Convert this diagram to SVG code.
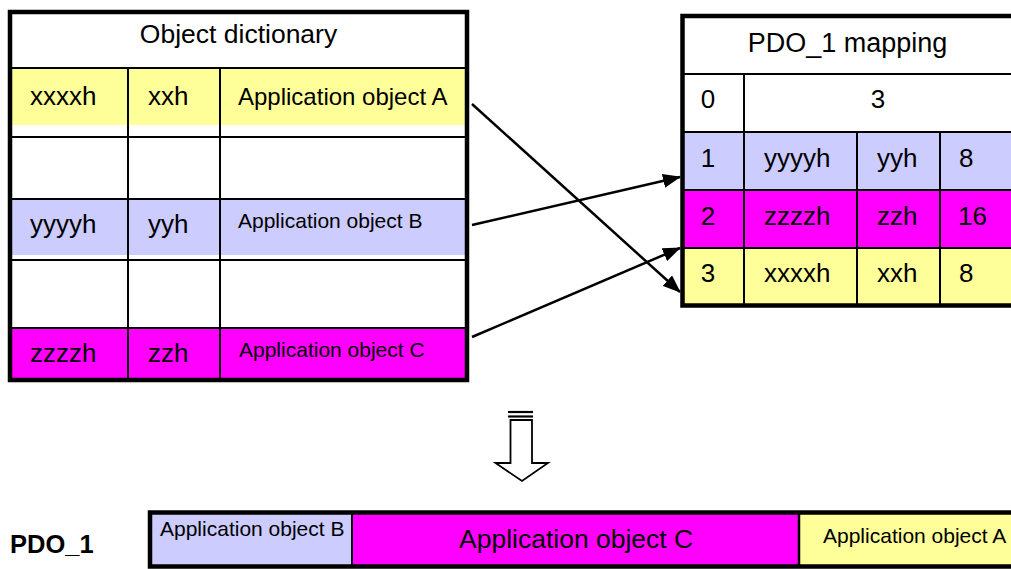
<svg xmlns="http://www.w3.org/2000/svg" width="1011" height="569" viewBox="0 0 1011 569">
<style>
text{font-family:"Liberation Sans",Arial,sans-serif;fill:#000}
.t{font-size:26px}
.s{font-size:21px}
.h{font-size:26.5px}
.c{text-anchor:middle}
.ln{stroke:#000;stroke-width:2;fill:none}
.ob{stroke:#000;stroke-width:4.5;fill:none}
.y{fill:#FFFF99}
.b{fill:#CCCCFF}
.m{fill:#FF00FF}
.con{stroke:#000;stroke-width:2.5;fill:none;marker-end:url(#ah)}
</style>
<defs>
<marker id="ah" markerWidth="18" markerHeight="14" refX="17" refY="7" orient="auto" markerUnits="userSpaceOnUse">
<path d="M0,0 L18,7 L0,14 Z" fill="#000"/>
</marker>
</defs>
<rect width="1011" height="569" fill="#fff"/>

<g id="object-dictionary">
<rect x="10" y="68" width="457" height="57" class="y"/>
<rect x="10" y="199" width="457" height="56" class="b"/>
<rect x="10" y="328" width="457" height="52" class="m"/>
<line x1="10" y1="68" x2="467" y2="68" class="ln"/>
<line x1="10" y1="137" x2="467" y2="137" class="ln"/>
<line x1="10" y1="199" x2="467" y2="199" class="ln"/>
<line x1="10" y1="260" x2="467" y2="260" class="ln"/>
<line x1="10" y1="328" x2="467" y2="328" class="ln"/>
<line x1="128" y1="68" x2="128" y2="380" class="ln"/>
<line x1="220" y1="68" x2="220" y2="380" class="ln"/>
<rect x="10" y="12" width="457" height="368" class="ob"/>
<text x="238.5" y="43" class="h c">Object dictionary</text>
<text x="30" y="105" class="t">xxxxh</text>
<text x="148" y="105" class="t">xxh</text>
<text x="238" y="105" class="s" style="font-size:24px">Application object A</text>
<text x="30" y="233" class="t">yyyyh</text>
<text x="148" y="233" class="t">yyh</text>
<text x="238" y="228" class="s">Application object B</text>
<text x="30" y="362" class="t">zzzzh</text>
<text x="148" y="362" class="t">zzh</text>
<text x="239" y="357" class="s">Application object C</text>
</g>

<g id="pdo1-mapping">
<rect x="682" y="132" width="340" height="58" class="b"/>
<rect x="682" y="190" width="340" height="58" class="m"/>
<rect x="682" y="248" width="340" height="57" class="y"/>
<line x1="682" y1="74" x2="1011" y2="74" class="ln"/>
<line x1="682" y1="132" x2="1011" y2="132" class="ln"/>
<line x1="682" y1="190" x2="1011" y2="190" class="ln"/>
<line x1="682" y1="248" x2="1011" y2="248" class="ln"/>
<line x1="744" y1="74" x2="744" y2="305" class="ln"/>
<line x1="857" y1="132" x2="857" y2="305" class="ln"/>
<line x1="940" y1="132" x2="940" y2="305" class="ln"/>
<rect x="682.5" y="16" width="340" height="289.5" class="ob"/>
<text x="847.5" y="52" class="c" style="font-size:27px">PDO_1 mapping</text>
<text x="708" y="108" class="t c">0</text>
<text x="878" y="108" class="t c">3</text>
<text x="708" y="167" class="t c">1</text>
<text x="764" y="167" class="t">yyyyh</text>
<text x="877" y="167" class="t">yyh</text>
<text x="959" y="167" class="t">8</text>
<text x="708" y="225" class="t c">2</text>
<text x="764" y="225" class="t">zzzzh</text>
<text x="877" y="225" class="t">zzh</text>
<text x="958" y="225" class="t">16</text>
<text x="708" y="282" class="t c">3</text>
<text x="764" y="282" class="t">xxxxh</text>
<text x="877" y="282" class="t">xxh</text>
<text x="959" y="282" class="t">8</text>
</g>

<g id="connectors">
<line x1="472" y1="104" x2="680" y2="292" class="con"/>
<line x1="472" y1="225" x2="680" y2="177" class="con"/>
<line x1="472" y1="337" x2="680" y2="248" class="con"/>
</g>

<g id="down-arrow">
<line x1="508" y1="412" x2="533" y2="412" stroke="#000" stroke-width="2.2"/>
<line x1="508" y1="416.5" x2="533" y2="416.5" stroke="#000" stroke-width="2.2"/>
<polygon points="510.5,420 532,420 532,463 548,463 522,481 495.5,463 510.5,463" fill="#fff" stroke="#000" stroke-width="1.8"/>
</g>

<g id="pdo1-frame">
<rect x="150" y="512.5" width="202" height="54" class="b"/>
<rect x="352" y="512.5" width="447" height="54" class="m"/>
<rect x="799" y="512.5" width="220" height="54" class="y"/>
<line x1="352" y1="512" x2="352" y2="567" stroke="#000" stroke-width="2"/>
<line x1="799" y1="512" x2="799" y2="567" stroke="#000" stroke-width="2.5"/>
<rect x="150" y="512.5" width="870" height="54" class="ob"/>
<text x="10" y="553" style="font-size:25.5px;font-weight:bold">PDO_1</text>
<text x="160" y="536" class="s">Application object B</text>
<text x="459" y="548" class="h">Application object C</text>
<text x="823" y="543" class="s">Application object A</text>
</g>
</svg>
